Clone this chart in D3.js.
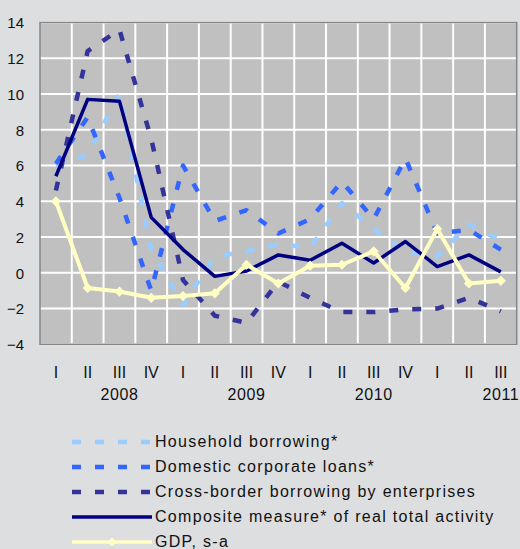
<!DOCTYPE html>
<html>
<head>
<meta charset="utf-8">
<script src="https://cdn.jsdelivr.net/npm/d3@7"></script>
<style>
  html, body { margin: 0; padding: 0; background: #dddee0; }
  svg { display: block; }
  text { font-family: "Liberation Sans", Arial, sans-serif; fill: #111; }
</style>
</head>
<body>
<svg id="chart" width="520" height="549"></svg>
<script>
// Quarterly categories, 2008 Q1 to 2011 Q3
const quarters = ["I","II","III","IV","I","II","III","IV","I","II","III","IV","I","II","III"];
const years = ["2008","2009","2010","2011"];
const yTicks = [-4, -2, 0, 2, 4, 6, 8, 10, 12, 14];

// Annual growth rates, per cent
const household   = [6.0, 6.6, 10.0, 1.3, -1.8, 0.9, 1.2, 1.6, 1.4, 3.9, 2.45, 1.2, 0.9, 2.7, 1.8];
const domestic    = [6.1, 8.7, 4.2, -1.0, 6.0, 2.9, 3.5, 2.2, 3.0, 5.1, 3.0, 6.4, 2.2, 2.4, 1.3];
const crossBorder = [4.6, 12.4, 13.6, 7.5, -0.4, -2.4, -2.8, -0.5, -1.4, -2.2, -2.2, -2.05, -2.0, -1.4, -2.15];
const composite   = [5.4, 9.7, 9.6, 3.1, 1.3, -0.2, 0.1, 1.0, 0.7, 1.65, 0.55, 1.75, 0.35, 1.0, 0.05];
const gdp         = [4.0, -0.85, -1.05, -1.4, -1.3, -1.15, 0.45, -0.6, 0.4, 0.45, 1.2, -0.85, 2.45, -0.6, -0.45];

const series = [
  { name: "Household borrowing*", values: household, color: "#99ccff", width: 4.5, dash: "9,14" },
  { name: "Domestic corporate loans*", values: domestic, color: "#3366ff", width: 4.5, dash: "9,14" },
  { name: "Cross-border borrowing by enterprises", values: crossBorder, color: "#333399", width: 4.5, dash: "9,14" },
  { name: "Composite measure* of real total activity", values: composite, color: "#000080", width: 3.5, dash: null },
  { name: "GDP, s-a", values: gdp, color: "#ffffc4", width: 4, dash: null, marker: true }
];

const svg = d3.select("#chart");
const plot = { left: 40, right: 516.7, top: 22.5, bottom: 344.3 };

const x = d3.scaleBand().domain(d3.range(quarters.length)).range([plot.left, plot.right]).padding(0);
const cx = i => x(i) + x.bandwidth() / 2;
const y = d3.scaleLinear().domain([-4, 14]).range([plot.bottom, plot.top]);

// Plot area background
svg.append("rect")
  .attr("x", plot.left).attr("y", plot.top)
  .attr("width", plot.right - plot.left).attr("height", plot.bottom - plot.top)
  .attr("fill", "#c0c0c0");

// Grid lines
const grid = svg.append("g");
grid.selectAll("line.h").data(yTicks).join("line")
  .attr("x1", plot.left).attr("x2", plot.right)
  .attr("y1", d => y(d)).attr("y2", d => y(d))
  .attr("stroke", "#ffffff").attr("stroke-width", 2);
grid.selectAll("line.v").data(d3.range(1, quarters.length)).join("line")
  .attr("x1", d => x(d)).attr("x2", d => x(d))
  .attr("y1", plot.top).attr("y2", plot.bottom)
  .attr("stroke", "#ffffff").attr("stroke-width", 2);

// Plot border
svg.append("rect")
  .attr("x", plot.left).attr("y", plot.top)
  .attr("width", plot.right - plot.left).attr("height", plot.bottom - plot.top)
  .attr("fill", "none").attr("stroke", "#858585").attr("stroke-width", 1.5);

// Y axis labels
const yAxis = svg.append("g").attr("transform", `translate(${plot.left - 16},0)`)
  .call(d3.axisLeft(y).tickValues(yTicks).tickSize(0).tickPadding(0).tickFormat(d3.format("d")));
yAxis.select(".domain").remove();
yAxis.selectAll("text").attr("font-size", 15).attr("fill", "#111")
  .attr("font-family", "Liberation Sans, Arial, sans-serif").attr("dy", "0.36em");

// X axis: quarters, then years under the third quarter
const xAxis = svg.append("g").attr("transform", `translate(0,${plot.bottom})`)
  .call(d3.axisBottom(x).tickSize(0).tickPadding(0).tickFormat(i => quarters[i]));
xAxis.select(".domain").remove();
xAxis.selectAll("text").attr("font-size", 16).attr("fill", "#111")
  .attr("font-family", "Liberation Sans, Arial, sans-serif")
  .attr("dy", null).attr("y", 33.4);

svg.append("g").selectAll("text").data(years).join("text")
  .attr("x", (d, k) => cx(k * 4 + 2))
  .attr("y", 400)
  .attr("text-anchor", "middle")
  .attr("font-size", 16)
  .attr("letter-spacing", 0.6)
  .text(d => d);

// Series lines
const line = d3.line().x((d, i) => cx(i)).y(d => y(d));
const marks = svg.append("g");
series.forEach(s => {
  marks.append("path")
    .datum(s.values)
    .attr("d", line)
    .attr("fill", "none")
    .attr("stroke", s.color)
    .attr("stroke-width", s.width)
    .attr("stroke-linejoin", "round")
    .attr("stroke-dasharray", s.dash);
  if (s.marker) {
    marks.append("g").selectAll("path").data(s.values).join("path")
      .attr("d", d3.symbol(d3.symbolSquare, 52))
      .attr("transform", (d, i) => `translate(${cx(i)},${y(d)}) rotate(45)`)
      .attr("fill", s.color);
  }
});

// Legend
const legend = svg.append("g");
series.forEach((s, k) => {
  const base = 447.3 + k * 25;
  const ly = base - 5.3;
  legend.append("line")
    .attr("x1", 72).attr("x2", 152)
    .attr("y1", ly).attr("y2", ly)
    .attr("stroke", s.color)
    .attr("stroke-width", s.dash ? 4.5 : 3.5)
    .attr("stroke-dasharray", s.dash);
  if (s.marker) {
    legend.append("path")
      .attr("d", d3.symbol(d3.symbolSquare, 40))
      .attr("transform", `translate(112,${ly}) rotate(45)`)
      .attr("fill", s.color);
  }
  legend.append("text")
    .attr("x", 155).attr("y", base)
    .attr("font-size", 16)
    .attr("letter-spacing", 1.3)
    .text(s.name);
});
</script>
</body>
</html>
